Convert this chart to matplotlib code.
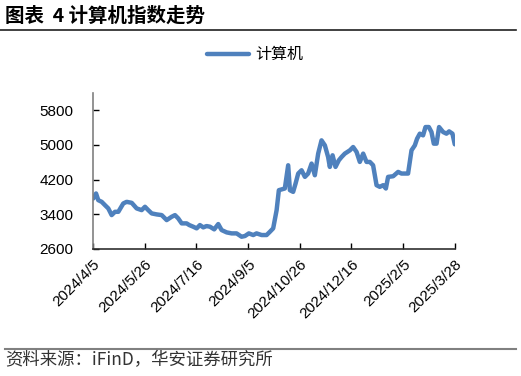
import pandas as pd
import matplotlib
matplotlib.use('Agg')
import matplotlib.pyplot as plt
from matplotlib.lines import Line2D

plt.rcParams['font.family'] = ['Liberation Sans', 'Noto Sans CJK SC', 'DejaVu Sans']

# index values (days counted from 2024/4/5)
start_date = '2024-04-05'
days = [0.3, 3.0, 5.2, 8.6, 11.8, 15.1, 18.4, 21.7, 25.0, 29.9, 33.2, 38.2, 43.1, 48.0,
        51.3, 54.5, 57.9, 62.8, 67.8, 72.7, 77.6, 80.9, 84.1, 87.5, 92.4, 95.0,
        98.9, 102.3, 105.5, 108.8, 112.1, 115.4, 119.6, 123.6, 126.9, 131.9, 136.8,
        141.7, 146.6, 149.9, 153.8, 158.1, 161.4, 166.4, 171.3, 174.6, 177.8,
        181.2, 183.4, 189.3, 192.6, 194.3, 197.5, 199.9, 202.5, 205.8, 209.1, 212.3,
        215.7, 218.9, 222.2, 225.5, 228.8, 232.0, 233.7, 236.4, 239.3, 242.6, 245.3,
        248.5, 253.5, 256.7, 260.1, 263.3,
        266.6, 269.9, 273.2, 276.4, 279.8, 283.0, 286.3, 289.0, 291.2, 296.2, 301.1,
        304.4, 310.9, 314.3, 317.6, 319.8, 322.5, 325.7, 328.1, 331.4, 334.0, 336.3,
        339.0, 341.5, 345.5, 348.8, 351.4, 354.7, 357.0]
values = [3766, 3881, 3727, 3688, 3612, 3536, 3382, 3458, 3458, 3651, 3688, 3665, 3536, 3497,
          3574, 3497, 3421, 3398, 3382, 3267, 3343, 3382, 3306, 3191, 3191, 3152,
          3114, 3076, 3152, 3099, 3129, 3114, 3053, 3175, 3037, 2983, 2960,
          2960, 2883, 2899, 2960, 2922, 2960, 2922, 2922, 2998, 3076,
          3497, 3957, 3996, 4532, 3957, 3918, 4111, 4341, 4417, 4264, 4341,
          4571, 4302, 4801, 5107, 4992, 4723, 4494, 4762, 4494, 4647, 4723,
          4801, 4877, 4953, 4839, 4609,
          4801, 4609, 4609, 4532, 4072, 4034, 4072, 3996, 4264, 4279, 4379,
          4341, 4341, 4877, 4992, 5145, 5261, 5222, 5414, 5414, 5299, 5031,
          5031, 5414, 5299, 5261, 5314, 5261, 5015]
tick_dates = ['2024-04-05', '2024-05-26', '2024-07-16', '2024-09-05',
              '2024-10-26', '2024-12-16', '2025-02-05', '2025-03-28']
tick_labels = ['2024/4/5', '2024/5/26', '2024/7/16', '2024/9/5',
               '2024/10/26', '2024/12/16', '2025/2/5', '2025/3/28']
y_ticks = [2600, 3400, 4200, 5000, 5800]

x = pd.Timestamp(start_date) + pd.to_timedelta(days, unit='D')
xt = pd.to_datetime(tick_dates)
line_color = '#4F81BD'

fig = plt.figure(figsize=(5.21, 3.76), dpi=100)
ax = fig.add_axes([0.1785, 0.3378, 0.6944, 0.4149])
ax.plot(x, values, color=line_color, lw=3.2, solid_joinstyle='round', solid_capstyle='round')

ax.set_xlim(xt[0], xt[-1])
ax.set_ylim(2600, 6200)
ax.set_yticks(y_ticks)
ax.set_xticks(xt)
ax.set_xticklabels(tick_labels, rotation=45, ha='right', rotation_mode='anchor')
ax.tick_params(direction='in', length=4, width=1, labelsize=11, colors='black')
ax.tick_params(axis='x', pad=6)
ax.tick_params(axis='y', pad=14)
for s in ['top', 'right']:
    ax.spines[s].set_visible(False)
ax.spines['left'].set_color('#808080')
ax.spines['bottom'].set_color('#303030')
ax.spines['left'].set_linewidth(1.2)
ax.spines['bottom'].set_linewidth(1.2)

handle = Line2D([], [], color=line_color, lw=3.2, solid_capstyle='round')
fig.legend([handle], ['计算机'], loc='center', bbox_to_anchor=(0.49, 0.854),
           frameon=False, handlelength=2.6, handletextpad=0.4,
           prop={'family': 'Noto Sans CJK SC', 'size': 11.5})

# title and source
fig.text(0.01, 0.958, '图表  4 计算机指数走势', fontsize=14, fontweight='bold',
         family=['Noto Sans CJK SC'], va='center', ha='left')
fig.add_artist(Line2D([0.0, 0.99], [0.92, 0.92], color='#202020', lw=1.2))
fig.add_artist(Line2D([0.01, 0.99], [0.072, 0.072], color='#808080', lw=1.5))
fig.text(0.01, 0.042, '资料来源：iFinD，华安证券研究所', fontsize=12.5, color='#333333',
         family=['Noto Sans CJK SC'], va='center', ha='left')

fig.savefig('out.png', dpi=100)
